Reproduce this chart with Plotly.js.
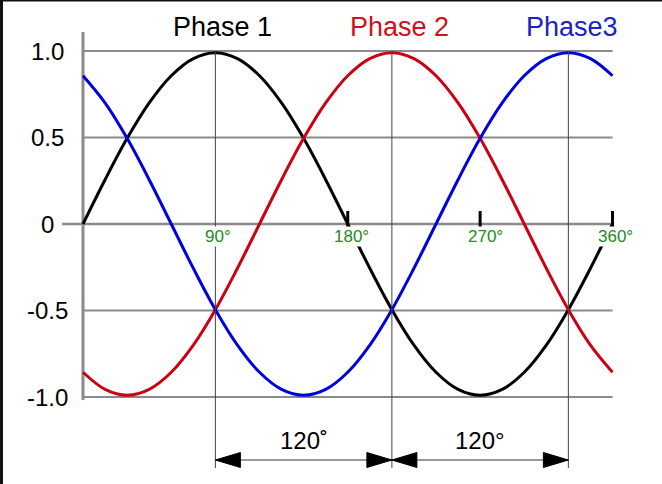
<!DOCTYPE html>
<html>
<head>
<meta charset="utf-8">
<script src="https://cdn.plot.ly/plotly-3.0.1.min.js"></script>
<style>
html,body{margin:0;padding:0;background:#fff;}
#chart{width:662px;height:484px;}
</style>
</head>
<body>
<div id="chart"></div>
<script>
// ---- data ----
const degrees = [0,15,30,45,60,75,90,105,120,135,150,165,180,195,210,225,240,255,270,285,300,315,330,345,360];
const phase1 = [0,0.256,0.495,0.7,0.857,0.956,0.99,0.956,0.857,0.7,0.495,0.256,0,-0.256,-0.495,-0.7,-0.857,-0.956,-0.99,-0.956,-0.857,-0.7,-0.495,-0.256,0];
const phase2 = [-0.857,-0.956,-0.99,-0.956,-0.857,-0.7,-0.495,-0.256,0,0.256,0.495,0.7,0.857,0.956,0.99,0.956,0.857,0.7,0.495,0.256,0,-0.256,-0.495,-0.7,-0.857];
const phase3 = [0.857,0.7,0.495,0.256,0,-0.256,-0.495,-0.7,-0.857,-0.956,-0.99,-0.956,-0.857,-0.7,-0.495,-0.256,0,0.256,0.495,0.7,0.857,0.956,0.99,0.956,0.857];
const seriesNames = ["Phase 1","Phase 2","Phase3"];
const gridValues = [1.0, 0.5, -0.5, -1.0];
const yTickValues = [1.0, 0.5, 0, -0.5, -1.0];
const yTickText = ["1.0","0.5","0","-0.5","-1.0"];
const degTickValues = [180, 270, 360];
const degLabelValues = [90, 180, 270, 360];
const degLabelText = ["90°","180°","270°","360°"];
const markerDegrees = [90, 210, 330];
const spans = [[90,210],[210,330]];
const spanText = ["120˚","120°"];

// ---- pixel <-> data helpers (layout only) ----
const X0PX = 83, XSCALE = 529.5/360;      // px per degree
const Y0PX = 224, YSCALE = 173;            // px per unit
const dx = px => (px - X0PX)/XSCALE;       // pixel x -> degrees
const dy = py => (Y0PX - py)/YSCALE;       // pixel y -> value
const lenX = px => px/XSCALE;
const lenY = py => py/YSCALE;

const colors = ["#000000","#cc0011","#0000dd"];
const titleColors = ["#000000","#d0101e","#2020c8"];
const FONT = "Liberation Sans, Arial, sans-serif";

const traces = [phase1, phase2, phase3].map((vals,i)=>({
  x: degrees, y: vals, type:"scatter", mode:"lines",
  line:{color:colors[i], width:3, shape:"spline", smoothing:1},
  hoverinfo:"skip", showlegend:false
}));

const shapes = [];
// horizontal grid lines
gridValues.forEach(v=>shapes.push({type:"line", xref:"x", yref:"y", x0:0, x1:360, y0:v, y1:v,
  line:{color:"#8a8a8a", width:2}, layer:"below"}));
// zero line (extends left of axis)
shapes.push({type:"line", xref:"x", yref:"y", x0:dx(62), x1:360, y0:0, y1:0,
  line:{color:"#8a8a8a", width:2.5}, layer:"below"});
// y axis line
shapes.push({type:"line", xref:"x", yref:"y", x0:0, x1:0, y0:dy(32), y1:dy(400),
  line:{color:"#8a8a8a", width:3}, layer:"below"});
// vertical marker lines
markerDegrees.forEach(d=>shapes.push({type:"line", xref:"x", yref:"y", x0:d, x1:d, y0:1.0, y1:dy(468),
  line:{color:"#444", width:1}, layer:"above"}));
// tick marks
degTickValues.forEach(d=>shapes.push({type:"line", xref:"x", yref:"y", x0:d, x1:d, y0:dy(211), y1:dy(227),
  line:{color:"#000", width:3}, layer:"above"}));
// dimension arrows
const arrowY = dy(460), headL = lenX(25), headH = lenY(7.5);
spans.forEach(([a,b])=>{
  shapes.push({type:"line", xref:"x", yref:"y", x0:a, x1:b, y0:arrowY, y1:arrowY,
    line:{color:"#333", width:1}, layer:"above"});
  shapes.push({type:"path", xref:"x", yref:"y",
    path:`M ${a} ${arrowY} L ${a+headL} ${arrowY+headH} L ${a+headL} ${arrowY-headH} Z`,
    fillcolor:"#000", line:{color:"#000", width:1}, layer:"above"});
  shapes.push({type:"path", xref:"x", yref:"y",
    path:`M ${b} ${arrowY} L ${b-headL} ${arrowY+headH} L ${b-headL} ${arrowY-headH} Z`,
    fillcolor:"#000", line:{color:"#000", width:1}, layer:"above"});
});
// dark frame edges of the reference image
shapes.push({type:"rect", xref:"paper", yref:"paper", x0:0, x1:3/662, y0:0, y1:1,
  fillcolor:"#111", line:{width:0}, layer:"above"});
shapes.push({type:"rect", xref:"paper", yref:"paper", x0:0, x1:1, y0:1-1.5/484, y1:1,
  fillcolor:"#111", line:{width:0}, layer:"above"});

const annotations = [];
// y tick labels
yTickValues.forEach((v,i)=>annotations.push({xref:"x", yref:"y", x:dx(47), y:v, text:yTickText[i],
  showarrow:false, xanchor:"center", yanchor:"middle", font:{family:FONT, size:24, color:"#000"}}));
// degree labels
const degLabelOffsetPx = [3, 4, 5, 3];
degLabelValues.forEach((d,i)=>annotations.push({xref:"x", yref:"y", x:d+lenX(degLabelOffsetPx[i]), y:dy(236),
  text:degLabelText[i], showarrow:false, xanchor:"center", yanchor:"middle",
  bgcolor:"#ffffff", borderpad:0, font:{family:FONT, size:17, color:"#228B22"}}));
// series titles
const titleCenters = [90, 210, 330];
const titleOffsetPx = [7, 8, 4];
seriesNames.forEach((n,i)=>annotations.push({xref:"x", yref:"y", x:titleCenters[i]+lenX(titleOffsetPx[i]), y:dy(27),
  text:n, showarrow:false, xanchor:"center", yanchor:"middle", font:{family:FONT, size:27, color:titleColors[i]}}));
// span labels
spans.forEach(([a,b],i)=>annotations.push({xref:"x", yref:"y", x:(a+b)/2, y:dy(440), text:spanText[i],
  showarrow:false, xanchor:"center", yanchor:"middle", font:{family:FONT, size:24, color:"#000"}}));

const layout = {
  width:662, height:484,
  margin:{l:0,r:0,t:0,b:0,pad:0},
  paper_bgcolor:"#ffffff", plot_bgcolor:"#ffffff",
  xaxis:{range:[dx(0), dx(662)], visible:false, showgrid:false, zeroline:false, fixedrange:true},
  yaxis:{range:[dy(484), dy(0)], visible:false, showgrid:false, zeroline:false, fixedrange:true},
  shapes, annotations, showlegend:false
};

Plotly.newPlot("chart", traces, layout, {displayModeBar:false, staticPlot:true});
</script>
</body>
</html>
